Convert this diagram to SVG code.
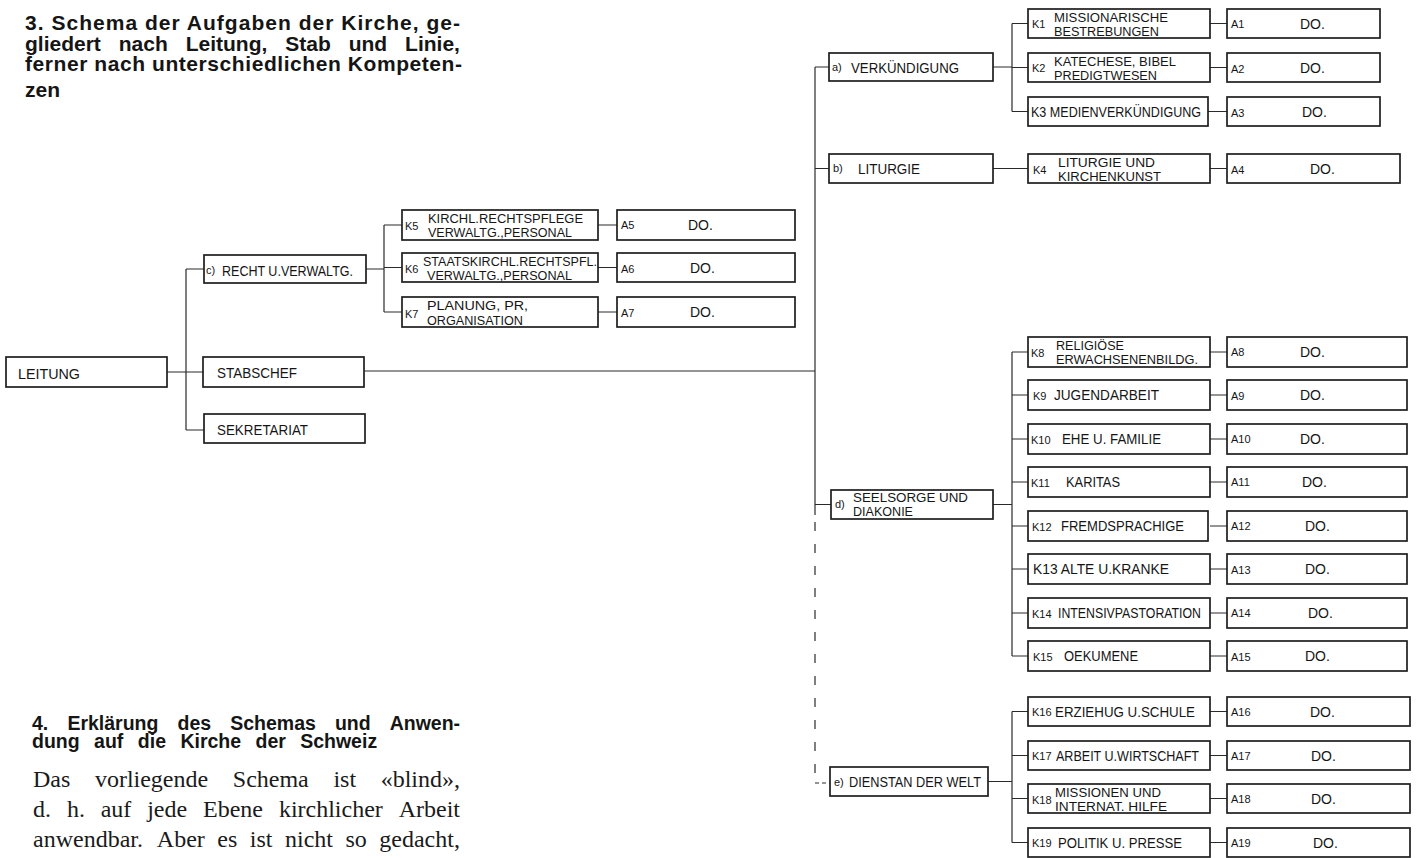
<svg xmlns="http://www.w3.org/2000/svg" width="1417" height="858" viewBox="0 0 1417 858">
<style>
.bx{fill:#fff;stroke:#1e1e1e;stroke-width:1.7}
.cn path{fill:none;stroke:#2a2a2a;stroke-width:1.2}
.cn .d{stroke-dasharray:9 13}
.cn .d2{stroke-dasharray:4 3}
.t{font-family:"Liberation Sans",Arial,sans-serif;fill:#151515}
.l{font-size:14px}
.xl{font-size:15px}
.m{font-size:12.5px}
.s{font-size:11px}
.h{font-family:"Liberation Sans",Arial,sans-serif;font-weight:bold;fill:#151515}
.p{font-family:"Liberation Serif","Times New Roman",serif;font-size:24px;fill:#1a1a1a}
</style>
<rect x="0" y="0" width="1417" height="858" fill="#fff"/>

<g id="title">
<text class="h" font-size="21" x="25" y="30" textLength="435" lengthAdjust="spacing">3. Schema der Aufgaben der Kirche, ge-</text>
<text class="h" font-size="21" y="51"><tspan x="25">gliedert</tspan><tspan x="118.8">nach</tspan><tspan x="185.7">Leitung,</tspan><tspan x="285.3">Stab</tspan><tspan x="348.7">und</tspan><tspan x="405.1">Linie,</tspan></text>
<text class="h" font-size="21" x="25" y="71" textLength="437" lengthAdjust="spacing">ferner nach unterschiedlichen Kompeten-</text>
<text class="h" font-size="21" x="25" y="97">zen</text>
</g>

<g id="section4">
<text class="h" font-size="19.5" y="730"><tspan x="32">4.</tspan><tspan x="67.4">Erklärung</tspan><tspan x="177.5">des</tspan><tspan x="230.2">Schemas</tspan><tspan x="334.9">und</tspan><tspan x="389.7">Anwen-</tspan></text>
<text class="h" font-size="19.5" y="748"><tspan x="32">dung</tspan><tspan x="94.1">auf</tspan><tspan x="137.8">die</tspan><tspan x="180.4">Kirche</tspan><tspan x="255.5">der</tspan><tspan x="300.2">Schweiz</tspan></text>
<text class="p" y="787"><tspan x="33">Das</tspan><tspan x="94.9">vorliegende</tspan><tspan x="232.8">Schema</tspan><tspan x="333.4">ist</tspan><tspan x="380.7">«blind»,</tspan></text>
<text class="p" y="817"><tspan x="33">d.</tspan><tspan x="66.9">h.</tspan><tspan x="100.7">auf</tspan><tspan x="147.2">jede</tspan><tspan x="203">Ebene</tspan><tspan x="278.9">kirchlicher</tspan><tspan x="398.7">Arbeit</tspan></text>
<text class="p" y="847"><tspan x="33">anwendbar.</tspan><tspan x="156.8">Aber</tspan><tspan x="217.3">es</tspan><tspan x="249.8">ist</tspan><tspan x="285">nicht</tspan><tspan x="345.5">so</tspan><tspan x="379.3">gedacht,</tspan></text>
</g>

<g class="cn" id="connectors">
<path d="M167 372H186M186 269V430M186 269H204M186 372H203M186 430H204"/>
<path d="M366 269H384M384 225V312M384 225H402M384 267.5H402M384 312H402"/>
<path d="M598 225H617M598 267.5H617M598 312H617"/>
<path d="M364 371H815"/>
<path d="M815 67V515"/>
<path class="d" d="M815 522V783"/>
<path class="d2" d="M815 783H830"/>
<path d="M815 67H829M815 168.5H829M815 504.5H831"/>
<path d="M993 67H1012M1012 23.5V111.5M1012 23.5H1028M1012 67.5H1028M1012 111.5H1028"/>
<path d="M1210 23.5H1227M1210 67.5H1227M1208 111.5H1227"/>
<path d="M993 168.5H1028M1210 168.5H1227"/>
<path d="M993 504.5H1012M1012 352V656M1012 352H1028M1012 395H1028M1012 439H1028M1012 482H1028M1012 526H1028M1012 569H1028M1012 613H1028M1012 656H1028"/>
<path d="M1210 352H1227M1210 395H1227M1210 439H1227M1210 482H1227M1210 526H1227M1210 569H1227M1210 613H1227M1210 656H1227"/>
<path d="M988 781.5H1012M1012 711.5V842.5M1012 711.5H1028M1012 755.5H1028M1012 798.5H1028M1012 842.5H1028"/>
<path d="M1210 711.5H1227M1210 755.5H1227M1210 798.5H1227M1210 842.5H1227"/>
</g>

<g id="leitung"><rect class="bx" x="6" y="357" width="161" height="30"/><text class="t xl" x="18" y="379" textLength="62" lengthAdjust="spacingAndGlyphs">LEITUNG</text></g>
<g id="recht"><rect class="bx" x="204" y="255" width="162" height="28"/><text class="t s" x="206" y="274">c)</text><text class="t l" x="222" y="276" textLength="131" lengthAdjust="spacingAndGlyphs">RECHT U.VERWALTG.</text></g>
<g id="stabschef"><rect class="bx" x="203" y="357" width="161" height="30"/><text class="t xl" x="217" y="378" textLength="80" lengthAdjust="spacingAndGlyphs">STABSCHEF</text></g>
<g id="sekretariat"><rect class="bx" x="204" y="414" width="161" height="29"/><text class="t xl" x="217" y="435" textLength="91" lengthAdjust="spacingAndGlyphs">SEKRETARIAT</text></g>

<g id="k5"><rect class="bx" x="402" y="210" width="196" height="30"/><text class="t s" x="405" y="230">K5</text><text class="t m" x="428" y="223" textLength="155" lengthAdjust="spacingAndGlyphs">KIRCHL.RECHTSPFLEGE</text><text class="t m" x="428" y="237" textLength="144" lengthAdjust="spacingAndGlyphs">VERWALTG.,PERSONAL</text></g>
<g id="k6"><rect class="bx" x="402" y="253" width="196" height="29"/><text class="t s" x="405" y="273">K6</text><text class="t m" x="423" y="266" textLength="174" lengthAdjust="spacingAndGlyphs">STAATSKIRCHL.RECHTSPFL.</text><text class="t m" x="427" y="280" textLength="145" lengthAdjust="spacingAndGlyphs">VERWALTG.,PERSONAL</text></g>
<g id="k7"><rect class="bx" x="402" y="297" width="196" height="30"/><text class="t s" x="405" y="318">K7</text><text class="t m" x="427" y="310" textLength="101" lengthAdjust="spacingAndGlyphs">PLANUNG, PR,</text><text class="t m" x="427" y="325" textLength="96" lengthAdjust="spacingAndGlyphs">ORGANISATION</text></g>
<g id="a5"><rect class="bx" x="617" y="210" width="178" height="30"/><text class="t s" x="621" y="229">A5</text><text class="t l" x="688" y="230">DO.</text></g>
<g id="a6"><rect class="bx" x="617" y="253" width="178" height="29"/><text class="t s" x="621" y="273">A6</text><text class="t l" x="690" y="273">DO.</text></g>
<g id="a7"><rect class="bx" x="617" y="297" width="178" height="30"/><text class="t s" x="621" y="317">A7</text><text class="t l" x="690" y="317">DO.</text></g>

<g id="verkuendigung"><rect class="bx" x="829" y="53" width="164" height="28"/><text class="t s" x="832" y="71">a)</text><text class="t l" x="851" y="73" textLength="108" lengthAdjust="spacingAndGlyphs">VERKÜNDIGUNG</text></g>
<g id="k1"><rect class="bx" x="1028" y="9" width="182" height="29"/><text class="t s" x="1032" y="28">K1</text><text class="t m" x="1054" y="22" textLength="114" lengthAdjust="spacingAndGlyphs">MISSIONARISCHE</text><text class="t m" x="1054" y="36" textLength="105" lengthAdjust="spacingAndGlyphs">BESTREBUNGEN</text></g>
<g id="k2"><rect class="bx" x="1028" y="53" width="182" height="29"/><text class="t s" x="1032" y="72">K2</text><text class="t m" x="1054" y="66" textLength="122" lengthAdjust="spacingAndGlyphs">KATECHESE, BIBEL</text><text class="t m" x="1054" y="80" textLength="103" lengthAdjust="spacingAndGlyphs">PREDIGTWESEN</text></g>
<g id="k3"><rect class="bx" x="1028" y="97" width="180" height="29"/><text class="t l" x="1031" y="117" textLength="170" lengthAdjust="spacingAndGlyphs">K3 MEDIENVERKÜNDIGUNG</text></g>
<g id="a1"><rect class="bx" x="1227" y="9" width="153" height="29"/><text class="t s" x="1231" y="28">A1</text><text class="t l" x="1300" y="29">DO.</text></g>
<g id="a2"><rect class="bx" x="1227" y="53" width="153" height="29"/><text class="t s" x="1231" y="73">A2</text><text class="t l" x="1300" y="73">DO.</text></g>
<g id="a3"><rect class="bx" x="1227" y="97" width="153" height="29"/><text class="t s" x="1231" y="117">A3</text><text class="t l" x="1302" y="117">DO.</text></g>

<g id="liturgie"><rect class="bx" x="829" y="154" width="164" height="29"/><text class="t s" x="833" y="172">b)</text><text class="t l" x="858" y="174" textLength="62" lengthAdjust="spacingAndGlyphs">LITURGIE</text></g>
<g id="k4"><rect class="bx" x="1028" y="154" width="182" height="29"/><text class="t s" x="1033" y="174">K4</text><text class="t m" x="1058" y="167" textLength="97" lengthAdjust="spacingAndGlyphs">LITURGIE UND</text><text class="t m" x="1058" y="181" textLength="103" lengthAdjust="spacingAndGlyphs">KIRCHENKUNST</text></g>
<g id="a4"><rect class="bx" x="1227" y="154" width="173" height="29"/><text class="t s" x="1231" y="174">A4</text><text class="t l" x="1310" y="174">DO.</text></g>

<g id="seelsorge"><rect class="bx" x="831" y="490" width="162" height="29"/><text class="t s" x="835" y="508">d)</text><text class="t m" x="853" y="502" textLength="115" lengthAdjust="spacingAndGlyphs">SEELSORGE UND</text><text class="t m" x="853" y="516" textLength="60" lengthAdjust="spacingAndGlyphs">DIAKONIE</text></g>
<g id="k8"><rect class="bx" x="1028" y="337" width="182" height="30"/><text class="t s" x="1031" y="357">K8</text><text class="t m" x="1056" y="350" textLength="68" lengthAdjust="spacingAndGlyphs">RELIGIÖSE</text><text class="t m" x="1056" y="364" textLength="142" lengthAdjust="spacingAndGlyphs">ERWACHSENENBILDG.</text></g>
<g id="k9"><rect class="bx" x="1028" y="380" width="182" height="30"/><text class="t s" x="1033" y="400">K9</text><text class="t l" x="1054" y="400" textLength="105" lengthAdjust="spacingAndGlyphs">JUGENDARBEIT</text></g>
<g id="k10"><rect class="bx" x="1028" y="424" width="182" height="30"/><text class="t s" x="1031" y="444">K10</text><text class="t l" x="1062" y="444" textLength="99" lengthAdjust="spacingAndGlyphs">EHE U. FAMILIE</text></g>
<g id="k11"><rect class="bx" x="1028" y="467" width="182" height="30"/><text class="t s" x="1031" y="487">K11</text><text class="t l" x="1066" y="487" textLength="54" lengthAdjust="spacingAndGlyphs">KARITAS</text></g>
<g id="k12"><rect class="bx" x="1028" y="511" width="180" height="30"/><text class="t s" x="1032" y="531">K12</text><text class="t l" x="1061" y="531" textLength="123" lengthAdjust="spacingAndGlyphs">FREMDSPRACHIGE</text></g>
<g id="k13"><rect class="bx" x="1028" y="554" width="182" height="30"/><text class="t l" x="1033" y="574" textLength="136" lengthAdjust="spacingAndGlyphs">K13 ALTE U.KRANKE</text></g>
<g id="k14"><rect class="bx" x="1028" y="598" width="182" height="30"/><text class="t s" x="1032" y="618">K14</text><text class="t l" x="1058" y="618" textLength="143" lengthAdjust="spacingAndGlyphs">INTENSIVPASTORATION</text></g>
<g id="k15"><rect class="bx" x="1028" y="641" width="182" height="30"/><text class="t s" x="1033" y="661">K15</text><text class="t l" x="1064" y="661" textLength="74" lengthAdjust="spacingAndGlyphs">OEKUMENE</text></g>
<g id="a8"><rect class="bx" x="1227" y="337" width="180" height="30"/><text class="t s" x="1231" y="356">A8</text><text class="t l" x="1300" y="357">DO.</text></g>
<g id="a9"><rect class="bx" x="1227" y="380" width="180" height="30"/><text class="t s" x="1231" y="400">A9</text><text class="t l" x="1300" y="400">DO.</text></g>
<g id="a10"><rect class="bx" x="1227" y="424" width="180" height="30"/><text class="t s" x="1231" y="443">A10</text><text class="t l" x="1300" y="444">DO.</text></g>
<g id="a11"><rect class="bx" x="1227" y="467" width="180" height="30"/><text class="t s" x="1231" y="486">A11</text><text class="t l" x="1302" y="487">DO.</text></g>
<g id="a12"><rect class="bx" x="1227" y="511" width="180" height="30"/><text class="t s" x="1231" y="530">A12</text><text class="t l" x="1305" y="531">DO.</text></g>
<g id="a13"><rect class="bx" x="1227" y="554" width="180" height="30"/><text class="t s" x="1231" y="574">A13</text><text class="t l" x="1305" y="574">DO.</text></g>
<g id="a14"><rect class="bx" x="1227" y="598" width="180" height="30"/><text class="t s" x="1231" y="617">A14</text><text class="t l" x="1308" y="618">DO.</text></g>
<g id="a15"><rect class="bx" x="1227" y="641" width="180" height="30"/><text class="t s" x="1231" y="661">A15</text><text class="t l" x="1305" y="661">DO.</text></g>

<g id="dienst"><rect class="bx" x="830" y="767" width="158" height="29"/><text class="t s" x="834" y="786">e)</text><text class="t l" x="849" y="787" textLength="132" lengthAdjust="spacingAndGlyphs">DIENSTAN DER WELT</text></g>
<g id="k16"><rect class="bx" x="1028" y="697" width="182" height="29"/><text class="t s" x="1032" y="716">K16</text><text class="t l" x="1055" y="717" textLength="140" lengthAdjust="spacingAndGlyphs">ERZIEHUG U.SCHULE</text></g>
<g id="k17"><rect class="bx" x="1028" y="741" width="182" height="29"/><text class="t s" x="1032" y="760">K17</text><text class="t l" x="1056" y="761" textLength="143" lengthAdjust="spacingAndGlyphs">ARBEIT U.WIRTSCHAFT</text></g>
<g id="k18"><rect class="bx" x="1028" y="784" width="182" height="29"/><text class="t s" x="1032" y="804">K18</text><text class="t m" x="1055" y="797" textLength="106" lengthAdjust="spacingAndGlyphs">MISSIONEN UND</text><text class="t m" x="1055" y="811" textLength="112" lengthAdjust="spacingAndGlyphs">INTERNAT. HILFE</text></g>
<g id="k19"><rect class="bx" x="1028" y="828" width="182" height="29"/><text class="t s" x="1032" y="847">K19</text><text class="t l" x="1058" y="848" textLength="124" lengthAdjust="spacingAndGlyphs">POLITIK U. PRESSE</text></g>
<g id="a16"><rect class="bx" x="1227" y="697" width="183" height="29"/><text class="t s" x="1231" y="716">A16</text><text class="t l" x="1310" y="717">DO.</text></g>
<g id="a17"><rect class="bx" x="1227" y="741" width="183" height="29"/><text class="t s" x="1231" y="760">A17</text><text class="t l" x="1311" y="761">DO.</text></g>
<g id="a18"><rect class="bx" x="1227" y="784" width="183" height="29"/><text class="t s" x="1231" y="803">A18</text><text class="t l" x="1311" y="804">DO.</text></g>
<g id="a19"><rect class="bx" x="1227" y="828" width="183" height="29"/><text class="t s" x="1231" y="847">A19</text><text class="t l" x="1313" y="848">DO.</text></g>
</svg>
